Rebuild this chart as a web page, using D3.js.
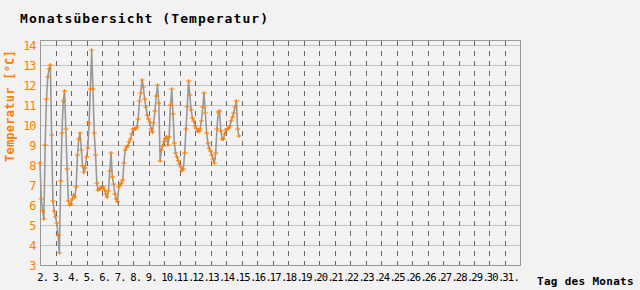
<!DOCTYPE html>
<html>
<head>
<meta charset="utf-8">
<script src="https://cdn.jsdelivr.net/npm/d3@7"></script>
<style>
  html, body { margin: 0; padding: 0; background: #f2f2f2; }
  svg { display: block; }
</style>
</head>
<body>
<svg id="chart" width="640" height="290"></svg>
<script>
// temperature readings, one every 2 hours from the start of the month
const stepHours = 2;
const temps = [
  8.1, 6.3, 5.7, 5.3, 9.0, 11.3, 12.4, 12.8, 13.0, 9.5,
  6.2, 5.7, 5.4, 5.1, 4.5, 3.6, 7.2, 9.6, 11.2, 11.7,
  9.8, 7.8, 6.2, 6.0, 6.05, 6.3, 6.5, 6.4, 6.9, 8.5,
  9.3, 9.6, 8.75, 7.95, 7.65, 7.85, 8.4, 8.85, 10.1, 11.8,
  13.75, 11.8, 9.6, 8.5, 7.1, 6.75, 6.8, 6.85, 6.9, 6.9,
  6.75, 6.55, 6.4, 6.7, 7.7, 8.6, 7.4, 7.05, 6.55, 6.3,
  6.17, 6.9, 7.0, 7.1, 7.25, 8.1, 8.75, 8.9, 8.95, 9.15,
  9.3, 9.55, 9.8, 9.8, 9.8, 9.9, 10.3, 11.2, 11.6, 12.25,
  11.9, 11.3, 10.9, 10.5, 10.3, 10.15, 9.8, 9.65, 10.1, 10.7,
  11.45, 12.0, 11.1, 8.2, 8.75, 8.95, 9.17, 9.33, 9.4, 9.0,
  9.4, 11.0, 11.8, 10.55, 9.1, 8.6, 8.4, 8.22, 8.05, 7.9,
  7.72, 7.8, 8.6, 9.8, 10.9, 12.2, 11.5, 10.75, 10.35, 10.2,
  9.95, 9.83, 9.7, 9.67, 9.8, 10.2, 10.9, 11.6, 10.6, 9.6,
  9.1, 8.85, 8.7, 8.5, 8.3, 8.1, 8.6, 9.8, 10.65, 10.7,
  9.7, 9.3, 9.3, 9.55, 9.75, 9.82, 9.85, 9.95, 10.2, 10.4,
  10.6, 10.9, 11.2, 9.8, 9.45
];

// day labels as printed (the 26th shows up twice)
const dayLabels = [
  "2.", "3.", "4.", "5.", "6.", "7.", "8.", "9.", "10.", "11.",
  "12.", "13.", "14.", "15.", "16.", "17.", "18.", "19.", "20.", "21.",
  "22.", "23.", "24.", "25.", "26.", "26.", "27.", "28.", "29.", "30.", "31."
];
const yTicks = [3, 4, 5, 6, 7, 8, 9, 10, 11, 12, 13, 14];

const orange = "#ff7f00";
const svg = d3.select("#chart");

const plot = { left: 40, right: 520.5, top: 40, bottom: 265 };

const x = d3.scaleLinear()
  .domain([0, dayLabels.length * 24])
  .range([plot.left, plot.right]);

const y = d3.scaleLinear()
  .domain([3, 14.25])
  .range([plot.bottom, plot.top]);

// title
svg.append("text")
  .attr("x", 20)
  .attr("y", 22.5)
  .attr("font-family", "DejaVu Sans Mono")
  .attr("font-weight", "bold")
  .attr("font-size", 13)
  .attr("letter-spacing", 1.07)
  .attr("fill", "#000")
  .text("Monatsübersicht (Temperatur)");

// horizontal grid
svg.append("g")
  .selectAll("line")
  .data(yTicks.filter((d) => d > 3))
  .join("line")
  .attr("x1", plot.left)
  .attr("x2", plot.right)
  .attr("y1", (d) => Math.round(y(d)) + 0.5)
  .attr("y2", (d) => Math.round(y(d)) + 0.5)
  .attr("stroke", "#c4c4c4")
  .attr("stroke-width", 1);

// dashed day lines
svg.append("g")
  .selectAll("line")
  .data(d3.range(1, dayLabels.length))
  .join("line")
  .attr("x1", (d) => Math.round(x(d * 24)) + 0.5)
  .attr("x2", (d) => Math.round(x(d * 24)) + 0.5)
  .attr("y1", plot.top + 1)
  .attr("y2", plot.bottom)
  .attr("stroke", "#666")
  .attr("stroke-width", 1)
  .attr("stroke-dasharray", "5,5");

// frame
svg.append("rect")
  .attr("x", plot.left + 0.5)
  .attr("y", plot.top + 0.5)
  .attr("width", Math.round(plot.right - plot.left) - 1)
  .attr("height", plot.bottom - plot.top)
  .attr("fill", "none")
  .attr("stroke", "#999")
  .attr("stroke-width", 1);

// y tick labels
svg.append("g")
  .selectAll("text")
  .data(yTicks)
  .join("text")
  .attr("x", 35)
  .attr("y", (d) => y(d) + 4.5)
  .attr("text-anchor", "end")
  .attr("font-family", "DejaVu Sans Mono")
  .attr("font-size", 12)
  .attr("letter-spacing", -1.4)
  .attr("fill", orange)
  .text((d) => d);

// x tick labels
svg.append("g")
  .selectAll("text")
  .data(dayLabels)
  .join("text")
  .attr("x", (d, i) => x(i * 24) - 2.8)
  .attr("y", 280.5)
  .attr("font-family", "DejaVu Sans Mono")
  .attr("font-size", 10.5)
  .attr("letter-spacing", -0.7)
  .attr("fill", "#000")
  .text((d) => d);

// axis titles
svg.append("text")
  .attr("transform", "translate(14,106) rotate(-90)")
  .attr("text-anchor", "middle")
  .attr("font-family", "DejaVu Sans Mono")
  .attr("font-weight", "bold")
  .attr("font-size", 12)
  .attr("letter-spacing", 0.25)
  .attr("fill", orange)
  .text("Temperatur [°C]");

svg.append("text")
  .attr("x", 537)
  .attr("y", 285)
  .attr("font-family", "DejaVu Sans Mono")
  .attr("font-weight", "bold")
  .attr("font-size", 11)
  .attr("letter-spacing", 0.3)
  .attr("fill", "#000")
  .text("Tag des Monats");

// temperature line
const points = temps.map((t, i) => ({ h: i * stepHours, t }));

svg.append("path")
  .datum(points)
  .attr("fill", "none")
  .attr("stroke", "#999")
  .attr("stroke-width", 1.6)
  .attr("d", d3.line().x((d) => x(d.h)).y((d) => y(d.t)));

// plus markers
svg.append("g")
  .selectAll("path")
  .data(points)
  .join("path")
  .attr("transform", (d) => `translate(${x(d.h)},${y(d.t)})`)
  .attr("d", "M-2.5,0H2.5M0,-2V2")
  .attr("stroke", orange)
  .attr("stroke-width", 1)
  .attr("fill", "none");
</script>
</body>
</html>
